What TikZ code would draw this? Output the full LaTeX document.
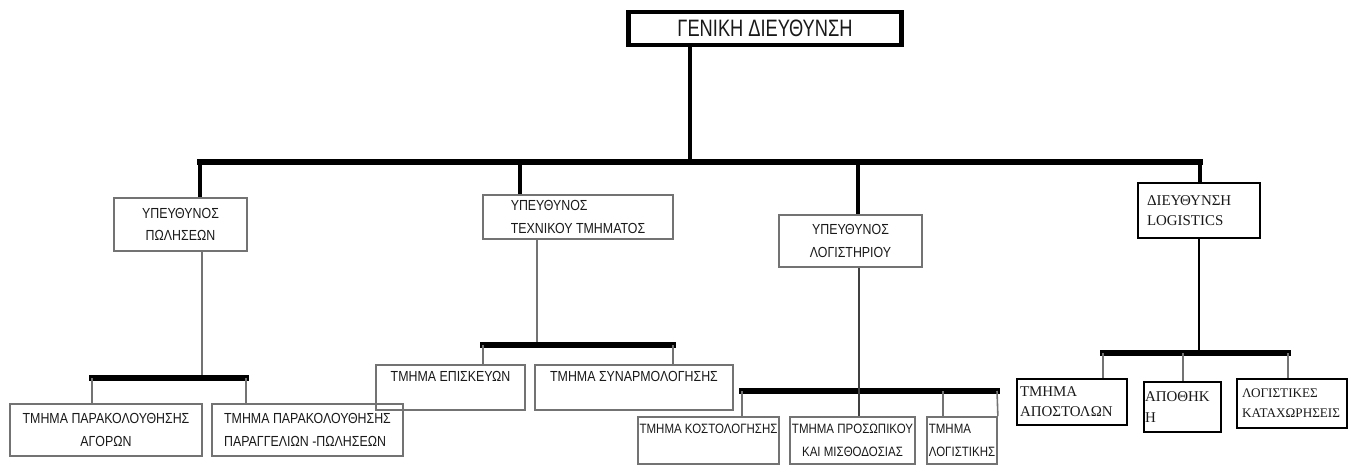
\documentclass[tikz,border=0pt]{standalone}
\usepackage{fontspec}
\setmainfont{Liberation Sans}
\newfontfamily\orgfont[FakeStretch=0.85]{Liberation Sans}
\newfontfamily\headfont[FakeStretch=0.77]{Liberation Sans}
\newfontfamily\lgfont{Liberation Serif}
\newlength\pxu
\setlength\pxu{0.02cm}
\tikzset{
  dims/.style 2 args={minimum width=#1\pxu, minimum height=#2\pxu},
  head/.style={draw, line width=2.8pt, font=\headfont\fontsize{13.5}{15}\selectfont},
  unit/.style={draw=black!55, line width=1pt, font=\orgfont\fontsize{8.3}{12.8}\selectfont},
  small unit/.style={unit, font=\orgfont\fontsize{7.7}{12.8}\selectfont},
  lunit/.style={draw, line width=1.6pt, align=left, font=\lgfont\fontsize{8.5}{11.5}\selectfont},
  bar/.style={line width=3.2pt, line cap=rect},
  stem/.style={line width=2.2pt},
  twig/.style={draw=black!55, line width=0.9pt}
}
\begin{document}
\begin{tikzpicture}[x=\pxu, y=-\pxu, every node/.style={inner sep=1pt, text=black!90}]
  \useasboundingbox (0,0) rectangle (1348,466);
  \node[head, dims={273}{33}] (gd) at (765,28.5) {ΓΕΝΙΚΗ ΔΙΕΥΘΥΝΣΗ};
  \node[unit, dims={133}{53}, align=center] (ps) at (180.5,224.5) {ΥΠΕΥΘΥΝΟΣ\\ΠΩΛΗΣΕΩΝ};
  \node[unit, dims={190}{44}, align=left] (tt) at (578,217) {ΥΠΕΥΘΥΝΟΣ\\ΤΕΧΝΙΚΟΥ ΤΜΗΜΑΤΟΣ};
  \node[unit, dims={143}{52}, align=center] (lg) at (850.5,241) {ΥΠΕΥΘΥΝΟΣ\\ΛΟΓΙΣΤΗΡΙΟΥ};
  \node[lunit, minimum height=55\pxu, text width=104\pxu, inner xsep=9\pxu] (dl) at (1199,210.5) {ΔΙΕΥΘΥΝΣΗ\\LOGISTICS};
  \node[unit, dims={192}{52}, align=center] (pa) at (106,430) {ΤΜΗΜΑ ΠΑΡΑΚΟΛΟΥΘΗΣΗΣ\\ΑΓΟΡΩΝ};
  \node[unit, dims={191}{52}, align=left] (pp) at (307.5,430) {ΤΜΗΜΑ ΠΑΡΑΚΟΛΟΥΘΗΣΗΣ\\ΠΑΡΑΓΓΕΛΙΩΝ -ΠΩΛΗΣΕΩΝ};
  \node[unit, dims={149}{45}, align=left] (te) at (450.5,387.5) {ΤΜΗΜΑ ΕΠΙΣΚΕΥΩΝ\\\mbox{}};
  \node[unit, dims={198}{45}, align=left] (ts) at (634,387.5) {ΤΜΗΜΑ ΣΥΝΑΡΜΟΛΟΓΗΣΗΣ\\\mbox{}};
  \node[small unit, dims={141}{47}, align=left] (lk) at (708.5,440.5) {ΤΜΗΜΑ ΚΟΣΤΟΛΟΓΗΣΗΣ\\\mbox{}};
  \node[small unit, dims={125}{47}, align=center] (lm) at (852.5,440.5) {ΤΜΗΜΑ ΠΡΟΣΩΠΙΚΟΥ\\ΚΑΙ ΜΙΣΘΟΔΟΣΙΑΣ};
  \node[small unit, dims={70}{47}, align=left] (ll) at (962,440.5) {ΤΜΗΜΑ\\ΛΟΓΙΣΤΙΚΗΣ};
  \node[lunit, minimum height=46\pxu, text width=104\pxu, inner xsep=3\pxu] (da) at (1072,402) {ΤΜΗΜΑ\\ΑΠΟΣΤΟΛΩΝ};
  \node[lunit, minimum height=50\pxu, text width=75\pxu, inner xsep=1\pxu] (dp) at (1182.5,407) {ΑΠΟΘΗΚ\\Η};
  \node[lunit, minimum height=49\pxu, text width=100\pxu, inner xsep=5\pxu, font=\lgfont\fontsize{7.5}{11.5}\selectfont] (dk) at (1292,403.5) {ΛΟΓΙΣΤΙΚΕΣ\\ΚΑΤΑΧΩΡΗΣΕΙΣ};
  \coordinate (hub) at (690,162);
  \coordinate (m1) at (200,162);
  \coordinate (m2) at (520,162);
  \coordinate (m3) at (858,162);
  \coordinate (m4) at (1200,162);
  \draw[stem] (gd.south -| hub) -- (hub);
  \draw[bar] (m1) -- (m4);
  \draw[stem] (m1) -- (m1 |- ps.north);
  \draw[stem] (m2) -- (m2 |- tt.north);
  \draw[stem] (m3) -- (m3 |- lg.north);
  \draw[stem] (m4) -- (m4 |- dl.north);
  \coordinate (p0) at (202,378);
  \coordinate (p1) at (92,378);
  \coordinate (p2) at (246,378);
  \draw[twig] (ps.south -| p0) -- (p0);
  \draw[bar] (p1) -- (p2);
  \draw[twig] (p1) -- (p1 |- pa.north);
  \draw[twig] (p2) -- (p2 |- pp.north);
  \coordinate (t0) at (537,345);
  \coordinate (t1) at (483,345);
  \coordinate (t2) at (673,345);
  \draw[twig] (tt.south -| t0) -- (t0);
  \draw[bar] (t1) -- (t2);
  \draw[twig] (t1) -- (t1 |- te.north);
  \draw[twig] (t2) -- (t2 |- ts.north);
  \coordinate (l0) at (859,391);
  \coordinate (l1) at (742,391);
  \coordinate (l2) at (943,391);
  \coordinate (l3) at (997,391);
  \draw[bar] (l1) -- (l3);
  \draw[twig, draw=black!75] (lg.south -| l0) -- (lm.north -| l0);
  \draw[twig] (l1) -- (l1 |- lk.north);
  \draw[twig] (l2) -- (l2 |- ll.north);
  \draw[twig] (l3) -- (ll.north east);
  \coordinate (d0) at (1199,353);
  \coordinate (d1) at (1103,353);
  \coordinate (d2) at (1183,353);
  \coordinate (d3) at (1288,353);
  \draw[twig, draw=black, line width=1.2pt] (dl.south -| d0) -- (d0);
  \draw[bar] (d1) -- (d3);
  \draw[twig] (d1) -- (d1 |- da.north);
  \draw[twig] (d2) -- (d2 |- dp.north);
  \draw[twig] (d3) -- (d3 |- dk.north);
\end{tikzpicture}
\end{document}
